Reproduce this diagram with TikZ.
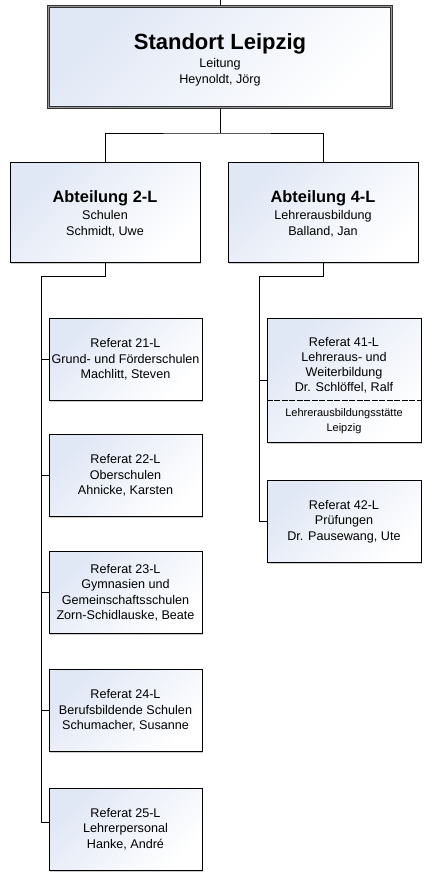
\documentclass[tikz,border=0pt]{standalone}
\usepackage{fontspec}
\setmainfont{Liberation Sans}
\usetikzlibrary{positioning,shadows}
\definecolor{boxtint}{RGB}{224,231,245}
\newcommand{\leadfont}{\fontsize{22}{24}\selectfont\bfseries}
\newcommand{\deptfont}{\fontsize{16.4}{18}\selectfont\bfseries}

\begin{document}
\begin{tikzpicture}[
  x=1pt, y=-1pt,
  unit/.style={rectangle, draw=black, line width=0.9pt, inner sep=0pt, align=center,
    top color=boxtint, bottom color=white, shading angle=45,
    drop shadow={shadow xshift=1.2pt, shadow yshift=-1.6pt, fill=black, opacity=0.2},
    font=\fontsize{12.6}{15.5}\selectfont},
  lead/.style={unit, minimum width=343pt, minimum height=101pt, draw=black!80,
    double=black!40, double distance=0.9pt, line width=0.8pt,
    font=\fontsize{12.6}{16}\selectfont},
  dept/.style={unit, minimum width=190pt, minimum height=100pt},
  ref/.style={unit, minimum width=153pt, minimum height=82pt},
  note/.style={inner sep=0pt, align=center, font=\fontsize{11}{15}\selectfont},
  link/.style={draw, line width=0.9pt},
  divider/.style={draw, line width=0.8pt, dash pattern=on 6pt off 1.5pt}
]
  \useasboundingbox (0,0) rectangle (427,883);

  \node[lead] (lead) at (220,57) {{\leadfont\rule{0pt}{22pt}Standort Leipzig}\\[2.5pt] Leitung\\ Heynoldt, Jörg};

  \node[dept] (a2) at (105,212) {{\deptfont\rule{0pt}{15.5pt}Abteilung 2-L}\\[1.5pt] Schulen\\ Schmidt, Uwe};
  \node[dept] (a4) at (323,212) {{\deptfont\rule{0pt}{15.5pt}Abteilung 4-L}\\[1.5pt] Lehrerausbildung\\ Balland, Jan};

  \node[ref] (r21) at (125.5,359.5) {Referat 21-L\\ Grund- und Förderschulen\\ Machlitt, Steven};
  \node[ref] (r22) at (125.5,475.5) {Referat 22-L\\ Oberschulen\\ Ahnicke, Karsten};
  \node[ref] (r23) at (125.5,592.5) {Referat 23-L\\ Gymnasien und\\ Gemeinschaftsschulen\\ Zorn-Schidlauske, Beate};
  \node[ref] (r24) at (125.5,710.5) {Referat 24-L\\ Berufsbildende Schulen\\ Schumacher, Susanne};
  \node[ref] (r25) at (125.5,829) {Referat 25-L\\ Lehrerpersonal\\ Hanke, André};

  \node[ref, minimum width=154pt, minimum height=124pt] (r41) at (344,380) {};
  \node[ref, minimum width=154pt] (r42) at (344,521.5) {Referat 42-L\\ Prüfungen\\ Dr. Pausewang, Ute};
  \node[inner sep=0pt, align=center, font=\fontsize{12.6}{15}\selectfont] (r41a) at (344,365)
    {Referat 41-L\\ Lehreraus- und\\ Weiterbildung\\ Dr. Schlöffel, Ralf};
  \node[note] (r41b) at (344,421) {Lehrerausbildungsstätte\\ Leipzig};
  \coordinate (r41d) at (344,400);
  \draw[divider] (r41.west |- r41d) -- (r41.east |- r41d);

  \coordinate (feed) at (220,0);
  \coordinate (j) at (220,133);
  \coordinate (s2) at (41,276);
  \coordinate (s4) at (259,276);
  \coordinate (r25k) at ([yshift=7pt]r25.west);

  \draw[link] (feed) -- (lead.north);
  \draw[link] (lead.south) -- (j);
  \draw[link] (a2.north) |- (j) -| (a4.north);
  \draw[link] (a2.south) |- (s2) |- (r25k);
  \draw[link] (a4.south) |- (s4) |- (r42.west);
  \foreach \r in {r21,r22,r23,r24}
    \draw[link] (s2 |- \r.west) -- (\r.west);
  \draw[link] (s4 |- r41.west) -- (r41.west);
\end{tikzpicture}
\end{document}
